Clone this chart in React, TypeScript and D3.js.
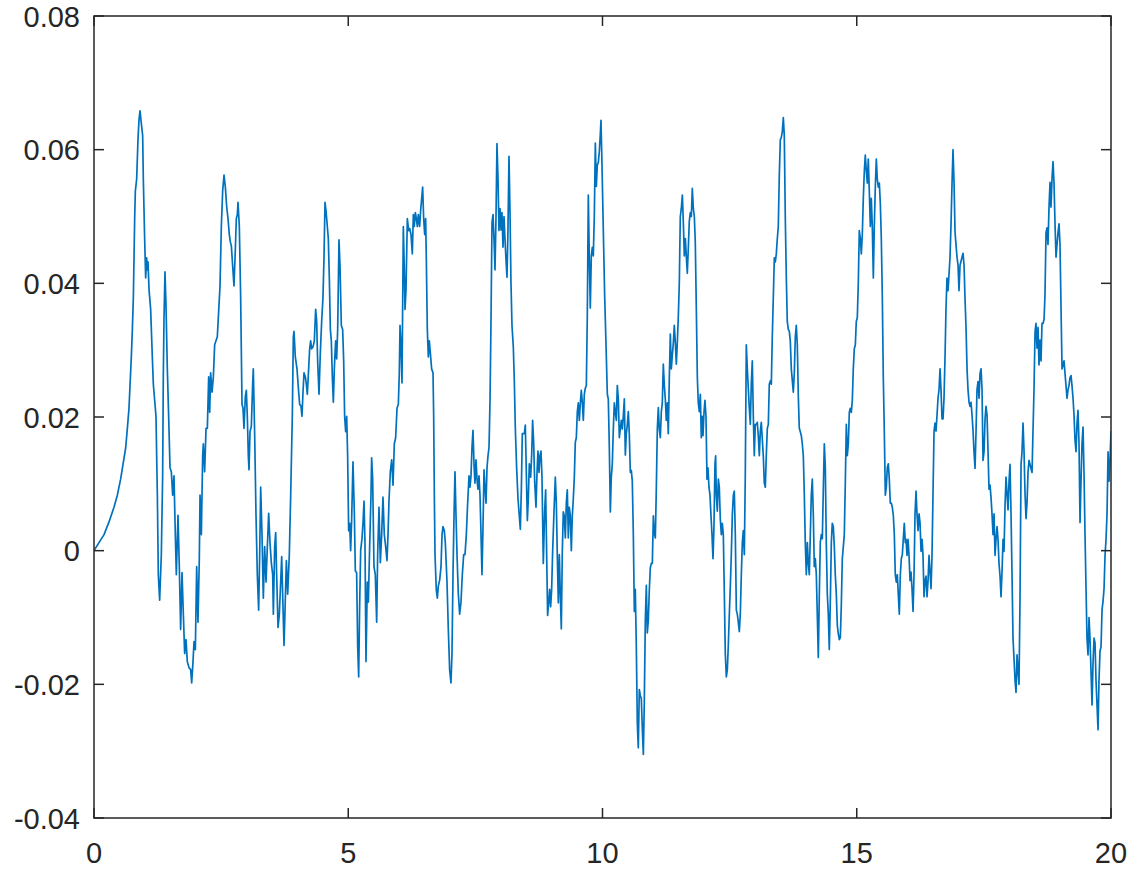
import React from 'react';
import * as d3 from 'd3';

const xTicks = [0, 5, 10, 15, 20];
const xTickLabels = ['0', '5', '10', '15', '20'];
const yTicks = [-0.04, -0.02, 0, 0.02, 0.04, 0.06, 0.08];
const yTickLabels = ['-0.04', '-0.02', '0', '0.02', '0.04', '0.06', '0.08'];

type P = [number, number];

const segment1: P[] = [[0,0],[0.098,0.0012],[0.197,0.0024],[0.295,0.0043],[0.393,0.0065],[0.459,0.0083],[0.524,0.0107],[0.623,0.0154],[0.656,0.0183],[0.688,0.0213],[0.734,0.029],[0.754,0.033],[0.774,0.0379],[0.8,0.0497],[0.813,0.0538],[0.839,0.0556],[0.865,0.0615],[0.885,0.0645],[0.905,0.0658],[0.931,0.0639],[0.957,0.0621],[0.97,0.0556],[0.996,0.0467],[1.016,0.0408],[1.036,0.0438],[1.049,0.042],[1.062,0.0432],[1.082,0.0391],[1.114,0.0361],[1.147,0.029],[1.167,0.0249],[1.193,0.0225],[1.219,0.0201],[1.246,0.0083],[1.265,-0.0036],[1.291,-0.0074],[1.324,-0.0006],[1.35,0.0112],[1.363,0.026],[1.377,0.0349],[1.396,0.0417],[1.416,0.0367],[1.442,0.0272],[1.468,0.0201],[1.495,0.0124],[1.521,0.0118],[1.547,0.0083],[1.573,0.0112],[1.599,0.0024],[1.619,-0.0036],[1.652,0.0053],[1.678,-0.0024],[1.704,-0.0118],[1.731,-0.0033],[1.757,-0.0095],[1.783,-0.0154],[1.809,-0.0133],[1.835,-0.0166],[1.868,-0.0175],[1.901,-0.0178],[1.921,-0.0198],[1.947,-0.0166],[1.967,-0.0136],[1.993,-0.0148],[2.019,-0.0024],[2.045,-0.0107],[2.071,-0.0012],[2.085,0.0083],[2.111,0.0024],[2.137,0.0142],[2.15,0.016],[2.176,0.0118],[2.203,0.0183],[2.229,0.0183],[2.255,0.026],[2.275,0.0207],[2.294,0.0266],[2.321,0.0237],[2.347,0.026],[2.373,0.0308],[2.425,0.032],[2.458,0.0367],[2.478,0.0396],[2.504,0.0485],[2.53,0.0538],[2.557,0.0562],[2.583,0.0544],[2.609,0.0515],[2.635,0.0497],[2.661,0.0473],[2.681,0.0462],[2.701,0.0456],[2.727,0.0426],[2.753,0.0396],[2.779,0.045],[2.799,0.0497],[2.819,0.0503],[2.832,0.0521],[2.858,0.0485],[2.884,0.0379],[2.911,0.0219],[2.93,0.0213],[2.95,0.0183],[2.976,0.0231],[2.996,0.024],[3.015,0.0201],[3.035,0.0142],[3.048,0.0121],[3.068,0.0178],[3.094,0.0186],[3.12,0.0249],[3.133,0.0272],[3.16,0.0172],[3.186,0.0053],[3.212,-0.0036],[3.238,-0.0089],[3.258,-0.0006],[3.278,0.0095],[3.304,0.0024],[3.33,-0.0071],[3.356,0.0006],[3.383,-0.0047],[3.409,0.0006],[3.435,0.0056],[3.461,0.0012],[3.487,-0.0018],[3.514,-0.0036],[3.527,-0.0095],[3.553,0.0006],[3.573,0.0027],[3.592,-0.0036],[3.619,-0.0115],[3.645,-0.0095],[3.671,-0.0047],[3.691,-0.0009],[3.71,-0.0065],[3.737,-0.0142],[3.763,-0.0071],[3.783,-0.0015],[3.809,-0.0065],[3.841,-0.0006],[3.868,0.0083],[3.9,0.0201],[3.92,0.032],[3.933,0.0328],[3.959,0.029]];

const segment2: P[] = [[3.992,0.0272],[4.025,0.0237],[4.044,0.0219],[4.071,0.0216],[4.09,0.0201],[4.11,0.0237],[4.13,0.0266],[4.156,0.026],[4.176,0.0249],[4.195,0.0234],[4.221,0.0272],[4.241,0.0302],[4.261,0.0314],[4.28,0.0302],[4.307,0.0305],[4.333,0.0314],[4.359,0.0361],[4.379,0.0343],[4.398,0.0284],[4.425,0.0234],[4.451,0.0296],[4.477,0.0343],[4.503,0.0379],[4.523,0.0438],[4.543,0.0521],[4.562,0.0509],[4.582,0.0491],[4.608,0.0467],[4.628,0.0408],[4.648,0.0331],[4.667,0.0314],[4.687,0.026],[4.707,0.0222],[4.726,0.0272],[4.752,0.0314],[4.772,0.0287],[4.792,0.0331],[4.818,0.0465],[4.838,0.0426],[4.864,0.0337],[4.89,0.0331],[4.91,0.0284],[4.929,0.0201],[4.949,0.0178],[4.969,0.0201],[4.988,0.0142],[5.008,0.003],[5.028,0.0041],[5.047,0],[5.067,0.0047],[5.093,0.0133],[5.119,0.0059],[5.139,-0.003],[5.165,-0.0033],[5.185,-0.0142],[5.205,-0.0189],[5.224,-0.0083],[5.244,0],[5.27,0.0018],[5.29,0.0041],[5.31,0.0074],[5.329,0.0012],[5.349,-0.0166],[5.375,-0.0047],[5.395,-0.0077],[5.421,0.0006],[5.447,0.0083],[5.46,0.0139],[5.48,0.0107],[5.506,-0.0024],[5.532,-0.0036],[5.559,-0.0107],[5.578,-0.0006],[5.605,0.0065],[5.631,-0.0018],[5.657,0.0024],[5.683,0.008],[5.709,0.0024],[5.736,0.0006],[5.762,-0.0015],[5.782,0.0024],[5.801,0.0074],[5.827,0.0118],[5.854,0.0136],[5.88,0.0098],[5.906,0.016],[5.932,0.0169],[5.959,0.0213],[5.985,0.0219],[6.004,0.0266],[6.018,0.0337],[6.037,0.0308],[6.057,0.0251],[6.07,0.0367],[6.083,0.0485],[6.103,0.042],[6.116,0.0361],[6.136,0.0391],[6.162,0.0497],[6.188,0.0479],[6.208,0.0482],[6.234,0.0473],[6.26,0.0444],[6.28,0.0503],[6.299,0.0485],[6.319,0.0506],[6.339,0.0497],[6.359,0.0485],[6.378,0.0503],[6.404,0.0485],[6.424,0.0509],[6.444,0.0527],[6.463,0.0544],[6.483,0.0497],[6.503,0.0473],[6.522,0.0497],[6.535,0.0438],[6.555,0.0331],[6.575,0.029],[6.594,0.0314],[6.614,0.0296],[6.64,0.0272],[6.667,0.0266],[6.68,0.0201],[6.693,0.0083],[6.706,-0.0006],[6.732,-0.0059],[6.752,-0.0071],[6.771,-0.0053],[6.798,-0.0044],[6.824,-0.0024],[6.844,0.0024],[6.863,0.0036],[6.889,0.003],[6.909,0.0012],[6.942,-0.0047],[6.968,-0.0118],[6.994,-0.0178],[7.02,-0.0198],[7.04,-0.0154],[7.06,-0.0036],[7.08,0.0053],[7.099,0.0118],[7.119,0.0053],[7.139,-0.0006],[7.165,-0.0065],[7.191,-0.0095],[7.217,-0.0077],[7.243,-0.0036],[7.27,-0.0006],[7.296,-0.0006],[7.322,0.0024],[7.348,0.0071],[7.375,0.0112],[7.394,0.0095],[7.414,0.0112],[7.433,0.0154],[7.453,0.018],[7.473,0.013],[7.492,0.0101],[7.512,0.0136],[7.532,0.0107],[7.551,0.0092],[7.571,0.0112],[7.591,0.0083],[7.611,0.0024],[7.63,-0.0036],[7.65,0.0036],[7.67,0.0121],[7.689,0.0095],[7.709,0.0071],[7.729,0.0124],[7.748,0.0142],[7.768,0.0154],[7.788,0.0225],[7.807,0.0343],[7.827,0.0491],[7.847,0.0503],[7.866,0.0467],[7.886,0.042],[7.905,0.0497],[7.925,0.0609],[7.945,0.0556],[7.964,0.0479]];

const segment3: P[] = [[7.984,0.0512],[8.004,0.048],[8.023,0.0506],[8.043,0.0454],[8.063,0.05],[8.082,0.0467],[8.102,0.0435],[8.122,0.0409],[8.141,0.048],[8.161,0.059],[8.181,0.0506],[8.2,0.0402],[8.22,0.0337],[8.246,0.0305],[8.266,0.0253],[8.286,0.0182],[8.312,0.0123],[8.338,0.0078],[8.364,0.0052],[8.384,0.0032],[8.404,0.0091],[8.423,0.0175],[8.443,0.0175],[8.463,0.0175],[8.482,0.0188],[8.502,0.0117],[8.522,0.0045],[8.541,0.0078],[8.561,0.013],[8.587,0.011],[8.607,0.0143],[8.626,0.0195],[8.646,0.0162],[8.666,0.0104],[8.692,0.0065],[8.712,0.0117],[8.731,0.0149],[8.751,0.0117],[8.771,0.0143],[8.79,0.0149],[8.81,0.011],[8.836,-0.0019],[8.862,0.0058],[8.882,0.0091],[8.902,-0.0006],[8.921,-0.0097],[8.941,-0.0078],[8.961,-0.0058],[8.98,-0.0084],[9,-0.0058],[9.02,0],[9.046,0.0058],[9.072,0.011],[9.092,0.0071],[9.111,-0.0006],[9.131,-0.0078],[9.151,-0.0006],[9.17,-0.0065],[9.19,-0.0117],[9.21,0],[9.229,0.0058],[9.249,0.0052],[9.269,0.0019],[9.288,0.0071],[9.308,0.0091],[9.328,0.0019],[9.347,0.0065],[9.367,0.0052],[9.387,0],[9.406,0.0052],[9.426,0.0078],[9.446,0.011],[9.465,0.0162],[9.485,0.0169],[9.505,0.0208],[9.524,0.0221],[9.544,0.0195],[9.564,0.0221],[9.583,0.024],[9.603,0.0221],[9.623,0.0195],[9.642,0.0234],[9.662,0.0243],[9.682,0.0247],[9.701,0.035],[9.721,0.0532],[9.741,0.0435],[9.76,0.0363],[9.78,0.0441],[9.8,0.0454],[9.819,0.0441],[9.839,0.05],[9.859,0.061],[9.878,0.0545],[9.898,0.0577],[9.918,0.0581],[9.937,0.0597],[9.957,0.0623],[9.97,0.0644],[9.99,0.0577],[10.016,0.048],[10.042,0.0383],[10.068,0.0311],[10.095,0.0234],[10.114,0.0227],[10.134,0.0156],[10.154,0.0058],[10.173,0.011],[10.193,0.013],[10.213,0.0182],[10.232,0.0221],[10.252,0.0208],[10.272,0.0195],[10.291,0.0247],[10.311,0.0227],[10.331,0.0169],[10.35,0.0182],[10.37,0.0195],[10.39,0.0182],[10.409,0.0201],[10.429,0.0227],[10.449,0.0143],[10.468,0.0175],[10.488,0.0188],[10.508,0.0208],[10.527,0.0175],[10.547,0.0117],[10.567,0.012],[10.586,0.0104],[10.606,0.0026],[10.626,-0.0091],[10.645,-0.0058],[10.665,-0.0143],[10.685,-0.0259],[10.704,-0.0295],[10.724,-0.0208],[10.744,-0.0217],[10.763,-0.0221],[10.783,-0.0266],[10.803,-0.0305],[10.822,-0.0227],[10.842,-0.0104],[10.862,-0.0052],[10.881,-0.0123],[10.901,-0.0104],[10.921,-0.0058],[10.94,-0.0026],[10.96,-0.0019],[10.98,-0.0019],[11,0.0052],[11.019,0.0026],[11.039,0.0019],[11.058,0.0091],[11.078,0.0182],[11.098,0.0214],[11.117,0.0182],[11.137,0.0169],[11.157,0.0208],[11.176,0.0221],[11.196,0.0279],[11.216,0.0247],[11.235,0.0227],[11.255,0.0195],[11.275,0.0221],[11.294,0.0175],[11.314,0.0259],[11.334,0.0324],[11.353,0.0272],[11.373,0.0292],[11.393,0.0311],[11.412,0.0337],[11.432,0.0311],[11.452,0.0279],[11.471,0.0311],[11.491,0.035],[11.511,0.0402],[11.53,0.05],[11.55,0.0512],[11.57,0.0532],[11.589,0.0493],[11.609,0.0441],[11.629,0.0467],[11.648,0.0441],[11.668,0.0415],[11.688,0.0454],[11.707,0.0493],[11.727,0.0506],[11.747,0.05],[11.766,0.0542],[11.786,0.0512],[11.806,0.05],[11.825,0.0461],[11.845,0.0363],[11.865,0.0259],[11.884,0.0221],[11.904,0.0208],[11.924,0.0234],[11.943,0.0169],[11.963,0.0201]];

const segment4: P[] = [[11.976,0.0172],[11.996,0.0207],[12.015,0.0225],[12.035,0.0201],[12.055,0.0107],[12.074,0.0124],[12.094,0.0095],[12.114,0.0083],[12.133,0.0053],[12.153,0.0024],[12.173,-0.0012],[12.192,0.0036],[12.212,0.013],[12.225,0.0142],[12.238,0.0083],[12.258,0.0059],[12.278,0.0107],[12.297,0.0095],[12.317,0.0047],[12.337,0.0024],[12.356,0.0041],[12.376,0.0024],[12.396,-0.0065],[12.415,-0.0154],[12.435,-0.0189],[12.455,-0.0178],[12.474,-0.0142],[12.494,-0.0095],[12.514,-0.0053],[12.533,-0.0006],[12.553,0.0053],[12.573,0.0083],[12.592,0.0089],[12.612,0.0024],[12.632,-0.0089],[12.651,-0.0095],[12.671,-0.0107],[12.691,-0.0121],[12.71,-0.0095],[12.73,-0.0036],[12.75,0.0012],[12.769,0.003],[12.789,-0.0006],[12.808,0.0112],[12.828,0.0308],[12.848,0.0272],[12.867,0.0243],[12.887,0.0213],[12.907,0.0189],[12.926,0.0249],[12.946,0.0284],[12.966,0.0201],[12.985,0.0142],[13.005,0.0189],[13.025,0.0189],[13.044,0.0192],[13.064,0.0172],[13.084,0.0142],[13.103,0.0178],[13.123,0.0192],[13.143,0.0166],[13.162,0.0142],[13.182,0.0101],[13.202,0.0095],[13.221,0.0142],[13.241,0.0183],[13.261,0.0189],[13.28,0.0249],[13.3,0.0254],[13.32,0.0249],[13.339,0.032],[13.359,0.0379],[13.379,0.0438],[13.398,0.0432],[13.418,0.0444],[13.438,0.0467],[13.457,0.0485],[13.477,0.0562],[13.497,0.0615],[13.516,0.0618],[13.536,0.0627],[13.556,0.0648],[13.575,0.0621],[13.595,0.0497],[13.615,0.0408],[13.634,0.0343],[13.654,0.0331],[13.674,0.0328],[13.693,0.0314],[13.713,0.0272],[13.733,0.0254],[13.752,0.0237],[13.772,0.0266],[13.792,0.032],[13.811,0.0337],[13.831,0.0308],[13.851,0.0231],[13.87,0.0183],[13.89,0.0178],[13.91,0.0172],[13.929,0.016],[13.949,0.0142],[13.969,0.0083],[13.988,0.0012],[14.008,-0.0036],[14.028,0.0012],[14.047,-0.0018],[14.067,-0.0036],[14.087,0.0024],[14.106,0.0083],[14.126,0.0107],[14.146,0.0053],[14.165,-0.0024],[14.185,-0.0012],[14.205,-0.0036],[14.224,-0.0095],[14.244,-0.016],[14.264,-0.0065],[14.283,0.0012],[14.303,0.0024],[14.323,0.0018],[14.342,0.0089],[14.362,0.016],[14.382,0.0124],[14.401,0.0012],[14.421,-0.0065],[14.441,-0.0095],[14.46,-0.0148],[14.48,-0.0077],[14.5,0.0012],[14.519,0.0041],[14.539,0.0036],[14.559,0.0006],[14.578,-0.0036],[14.598,-0.0065],[14.618,-0.0112],[14.637,-0.0124],[14.657,-0.0133],[14.677,-0.013],[14.696,-0.0083],[14.716,-0.0012],[14.736,0.0006],[14.755,0.0024],[14.775,0.0101],[14.795,0.0189],[14.814,0.0142],[14.834,0.016],[14.854,0.0207],[14.873,0.0213],[14.893,0.0207],[14.913,0.0225],[14.932,0.0272],[14.952,0.0302],[14.972,0.0308],[14.991,0.0343],[15.011,0.0349],[15.031,0.0402],[15.05,0.0479],[15.07,0.0467],[15.09,0.0444],[15.109,0.0473],[15.129,0.0527],[15.149,0.0568],[15.168,0.0592],[15.188,0.0568],[15.208,0.055],[15.227,0.0586],[15.247,0.0538],[15.267,0.0485],[15.286,0.0527],[15.306,0.0485],[15.326,0.0408],[15.345,0.0485],[15.365,0.0544],[15.385,0.0586],[15.404,0.0556],[15.424,0.0544],[15.444,0.055],[15.463,0.0521],[15.483,0.0467],[15.503,0.0379],[15.522,0.026],[15.542,0.0178],[15.562,0.0083],[15.581,0.0095],[15.601,0.0124],[15.621,0.013],[15.64,0.0107],[15.66,0.0071],[15.68,0.0071],[15.699,0.0065],[15.719,0.0053],[15.739,0.0024],[15.758,-0.0036],[15.778,-0.0047],[15.798,-0.0036],[15.817,-0.0065],[15.837,-0.0095],[15.857,-0.0036],[15.876,-0.0012],[15.896,-0.0006],[15.916,0.0018],[15.935,0.0041],[15.955,0.0012]];

const segment5: P[] = [[15.969,0.0017],[15.989,-0.0007],[16.008,0.0017],[16.028,-0.0007],[16.048,-0.0045],[16.067,-0.0032],[16.087,-0.0057],[16.107,-0.0091],[16.126,-0.0038],[16.146,0.0055],[16.166,0.0089],[16.185,0.0055],[16.205,0.003],[16.225,0.0055],[16.244,0.0042],[16.264,-0.0001],[16.284,0.0017],[16.303,-0.0007],[16.323,-0.0069],[16.343,-0.0045],[16.362,-0.0038],[16.382,-0.0069],[16.402,-0.0045],[16.421,-0.0007],[16.441,-0.0032],[16.461,-0.0057],[16.48,-0.0007],[16.5,0.0086],[16.52,0.0179],[16.539,0.0191],[16.559,0.0179],[16.579,0.0203],[16.598,0.0228],[16.618,0.0241],[16.638,0.0272],[16.657,0.0241],[16.677,0.0197],[16.697,0.0197],[16.716,0.0228],[16.736,0.029],[16.756,0.0365],[16.775,0.0408],[16.795,0.0389],[16.815,0.0414],[16.834,0.0439],[16.854,0.0489],[16.874,0.0551],[16.893,0.06],[16.913,0.0551],[16.933,0.0476],[16.952,0.0458],[16.972,0.0439],[16.992,0.0427],[17.011,0.0389],[17.031,0.0427],[17.051,0.0433],[17.07,0.0439],[17.09,0.0445],[17.11,0.0427],[17.129,0.0377],[17.149,0.0334],[17.169,0.0272],[17.188,0.0241],[17.208,0.0222],[17.228,0.0216],[17.247,0.0222],[17.267,0.0203],[17.287,0.0179],[17.306,0.0148],[17.326,0.0123],[17.346,0.0179],[17.365,0.0241],[17.385,0.0253],[17.405,0.0228],[17.424,0.0265],[17.444,0.0272],[17.464,0.0241],[17.483,0.0135],[17.503,0.0148],[17.523,0.0197],[17.542,0.0216],[17.562,0.0203],[17.582,0.0148],[17.601,0.0092],[17.621,0.0098],[17.641,0.0079],[17.66,0.0055],[17.68,0.0024],[17.7,0.0055],[17.719,-0.0007],[17.739,0.0017],[17.759,0.0036],[17.778,0.0017],[17.798,-0.002],[17.818,-0.0038],[17.837,-0.0069],[17.857,-0.0032],[17.877,0.0017],[17.896,-0.0001],[17.916,0.0067],[17.936,0.011],[17.955,0.0086],[17.975,0.0061],[17.995,0.0104],[18.014,0.0129],[18.034,0.0055],[18.054,-0.0038],[18.073,-0.0131],[18.093,-0.0162],[18.113,-0.0194],[18.132,-0.0212],[18.152,-0.0156],[18.172,-0.0181],[18.191,-0.02],[18.211,-0.0069],[18.231,0.0129],[18.25,0.0148],[18.27,0.0191],[18.29,0.0148],[18.309,0.0086],[18.329,0.0048],[18.349,0.0073],[18.368,0.0117],[18.388,0.0135],[18.408,0.0129],[18.427,0.0123],[18.447,0.0117],[18.466,0.0179],[18.486,0.0241],[18.506,0.0327],[18.525,0.034],[18.545,0.0303],[18.565,0.0334],[18.584,0.0278],[18.604,0.0315],[18.624,0.0284],[18.643,0.034],[18.663,0.034],[18.683,0.0346],[18.702,0.0383],[18.722,0.0476],[18.742,0.0483],[18.761,0.0458],[18.781,0.0514],[18.801,0.0551],[18.82,0.0514],[18.84,0.0557],[18.86,0.0582],[18.879,0.0551],[18.899,0.0489],[18.919,0.0439],[18.938,0.0458],[18.958,0.0476],[18.978,0.0489],[18.997,0.0458],[19.017,0.0365],[19.037,0.0272],[19.056,0.0278],[19.076,0.0284],[19.096,0.0265],[19.115,0.0247],[19.135,0.0228],[19.155,0.0241],[19.174,0.0247],[19.194,0.0259],[19.214,0.0262],[19.233,0.0247],[19.253,0.0228],[19.273,0.0203],[19.292,0.0166],[19.312,0.0148],[19.332,0.0191],[19.351,0.021],[19.371,0.016],[19.391,0.0042],[19.41,0.0104],[19.43,0.016],[19.45,0.0185],[19.469,0.0117],[19.489,0.0024],[19.509,-0.0057],[19.528,-0.0131],[19.548,-0.0156],[19.568,-0.01],[19.587,-0.0131],[19.607,-0.0181],[19.627,-0.0231],[19.646,-0.0169],[19.666,-0.0131],[19.686,-0.0138],[19.705,-0.0194],[19.725,-0.0231],[19.745,-0.0268],[19.764,-0.0194],[19.784,-0.015],[19.804,-0.0144],[19.824,-0.0088],[19.843,-0.0076],[19.863,-0.0057],[19.883,-0.0007],[19.902,0.0017],[19.922,0.0055],[19.942,0.0148],[19.961,0.0104],[19.981,0.0135],[20,0.0179]];

const W = 1135;
const H = 872;
const left = 94;
const right = 1111;
const top = 16;
const bottom = 818;
const tickLen = 10;
const axisColor = '#262626';
const lineColor = '#0072BD';
const font = '"Liberation Sans", Arial, Helvetica, sans-serif';

export default function App() {
  const x = d3.scaleLinear().domain([0, 20]).range([left, right]);
  const y = d3.scaleLinear().domain([-0.04, 0.08]).range([bottom, top]);
  const data: P[] = [...segment1, ...segment2, ...segment3, ...segment4, ...segment5];
  const line = d3.line<P>().x(d => x(d[0])).y(d => y(d[1]));
  const path = line(data) || '';

  return (
    <svg width={W} height={H} style={{ position: 'absolute', left: 0, top: 0, background: '#fff' }}>
      <rect x={0} y={0} width={W} height={H} fill="#fff" />
      <defs>
        <clipPath id="plotclip">
          <rect x={left} y={top} width={right - left} height={bottom - top} />
        </clipPath>
      </defs>
      <path d={path} fill="none" stroke={lineColor} strokeWidth={1.7} strokeLinejoin="round" clipPath="url(#plotclip)" />
      <rect x={left} y={top} width={right - left} height={bottom - top} fill="none" stroke={axisColor} strokeWidth={1.5} />
      {xTicks.map((t, i) => (
        <g key={'x' + i}>
          <line x1={x(t)} x2={x(t)} y1={bottom} y2={bottom - tickLen} stroke={axisColor} strokeWidth={1.5} />
          <line x1={x(t)} x2={x(t)} y1={top} y2={top + tickLen} stroke={axisColor} strokeWidth={1.5} />
          <text x={x(t)} y={863} textAnchor="middle" fontFamily={font} fontSize={29} fill={axisColor}>{xTickLabels[i]}</text>
        </g>
      ))}
      {yTicks.map((v, i) => (
        <g key={'y' + i}>
          <line x1={left} x2={left + tickLen} y1={y(v)} y2={y(v)} stroke={axisColor} strokeWidth={1.5} />
          <line x1={right} x2={right - tickLen} y1={y(v)} y2={y(v)} stroke={axisColor} strokeWidth={1.5} />
          <text x={80} y={y(v) + 10.5} textAnchor="end" fontFamily={font} fontSize={29} fill={axisColor}>{yTickLabels[i]}</text>
        </g>
      ))}
    </svg>
  );
}
